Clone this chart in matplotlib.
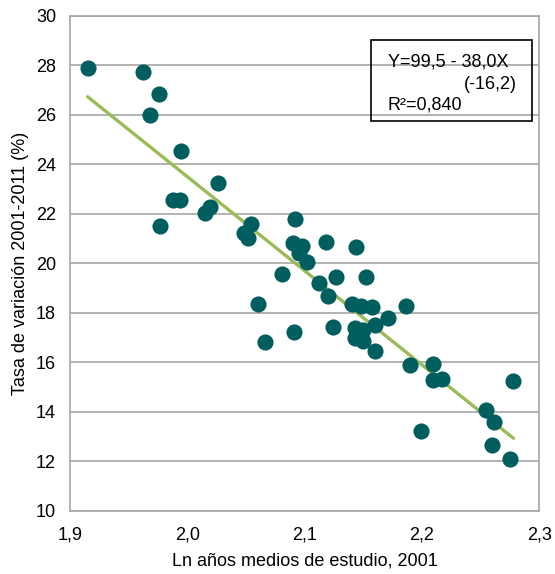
import numpy as np
import matplotlib
matplotlib.use("Agg")
import matplotlib.pyplot as plt
from matplotlib.patches import Rectangle
from matplotlib.ticker import FuncFormatter

plt.rcParams["font.family"] = ["Liberation Sans", "DejaVu Sans"]

# Ln of mean years of schooling (2001) vs growth rate 2001-2011 (%)
ln_years = [1.915, 1.962, 1.976, 1.968, 1.995, 2.026, 1.988, 1.994, 1.977, 2.015,
            2.019, 2.092, 2.048, 2.054, 2.052, 2.090, 2.098, 2.095, 2.102, 2.118,
            2.144, 2.081, 2.112, 2.127, 2.152, 2.120, 2.060, 2.140, 2.148, 2.157,
            2.186, 2.171, 2.160, 2.124, 2.091, 2.066, 2.143, 2.150, 2.143, 2.150,
            2.160, 2.190, 2.209, 2.209, 2.217, 2.199, 2.255, 2.261, 2.260, 2.275,
            2.278]
growth = [27.89, 27.74, 26.84, 25.98, 24.53, 23.26, 22.56, 22.56, 21.51, 22.02,
          22.29, 21.79, 21.24, 21.59, 21.01, 20.81, 20.70, 20.41, 20.04, 20.88,
          20.67, 19.57, 19.20, 19.46, 19.46, 18.68, 18.35, 18.36, 18.28, 18.23,
          18.29, 17.78, 17.51, 17.44, 17.22, 16.81, 17.38, 17.31, 16.98, 16.88,
          16.48, 15.90, 15.92, 15.29, 15.33, 13.23, 14.08, 13.58, 12.68, 12.10,
          15.26]

intercept, slope = 99.5, -38.0
eq_lines = ["Y=99,5 - 38,0X", "(-16,2)", "R²=0,840"]

x_ticks = [1.9, 2.0, 2.1, 2.2, 2.3]
y_ticks = list(range(10, 31, 2))

teal = "#005F5E"
green = "#9BBB59"
grey = "#A6A6A6"
fs = 13

fig = plt.figure(figsize=(5.55, 5.74), dpi=100)
ax = fig.add_axes([0.1261, 0.1098, 0.8456, 0.8628])

ax.scatter(ln_years, growth, s=135, color=teal, linewidths=0, zorder=3)

xs = np.array([min(ln_years), max(ln_years)])
ax.plot(xs, intercept + slope * xs, color=green, lw=2.4, zorder=2,
        solid_capstyle="round")

ax.set_xlim(1.9, 2.3)
ax.set_ylim(10, 30)
ax.set_xticks(x_ticks)
ax.set_yticks(y_ticks)
ax.xaxis.set_major_formatter(FuncFormatter(lambda v, p: f"{v:.1f}".replace(".", ",")))
ax.tick_params(length=0, labelsize=fs, colors="black")
ax.tick_params(axis="x", pad=11)
ax.tick_params(axis="y", pad=10)

ax.grid(axis="y", color=grey, lw=1.2)
ax.set_axisbelow(True)
for s in ax.spines.values():
    s.set_color(grey)
    s.set_linewidth(1.2)

ax.set_xlabel("Ln años medios de estudio, 2001", fontsize=fs, labelpad=7)
ax.set_ylabel("Tasa de variación 2001-2011 (%)", fontsize=fs, labelpad=5)

ax.add_patch(Rectangle((0.6414, 0.787), 0.3436, 0.164, transform=ax.transAxes,
                       fill=False, edgecolor="black", lw=1.2, zorder=5,
                       clip_on=False))
ax.text(0.6776, 0.897, eq_lines[0], transform=ax.transAxes, fontsize=fs,
        va="baseline", ha="left", zorder=6)
ax.text(0.952, 0.852, eq_lines[1], transform=ax.transAxes, fontsize=fs,
        va="baseline", ha="right", zorder=6)
ax.text(0.6776, 0.8116, eq_lines[2], transform=ax.transAxes, fontsize=fs,
        va="baseline", ha="left", zorder=6)

fig.savefig("out.png", dpi=100)
